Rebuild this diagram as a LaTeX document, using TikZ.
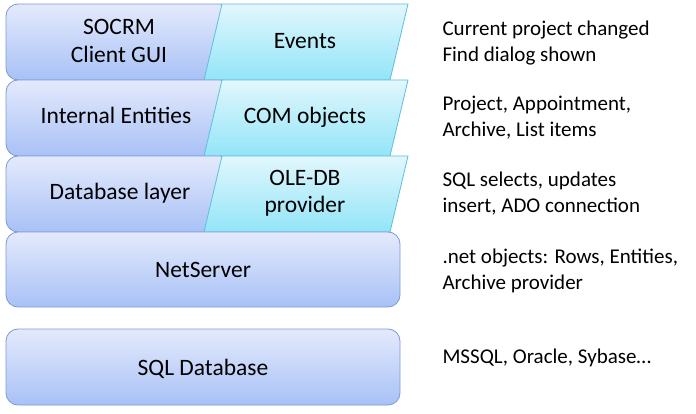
\documentclass[tikz,border=0pt]{standalone}
\usepackage{fontspec}
\setmainfont{Carlito}
\usepackage{xcolor}
\usepackage{tikz}

\definecolor{layerTop}{HTML}{E4EAFC}
\definecolor{layerBot}{HTML}{A8C1F6}
\definecolor{layerLine}{HTML}{7C9AD6}
\definecolor{ifaceTop}{HTML}{E2F7FD}
\definecolor{ifaceBot}{HTML}{92E5F8}
\definecolor{ifaceLine}{HTML}{5BBFDD}

\begin{document}
\begin{tikzpicture}[x=1pt,y=-1pt,
  layer/.style={draw=layerLine, top color=layerTop, bottom color=layerBot, rounded corners=12pt, line width=0.8pt},
  iface/.style={draw=ifaceLine, top color=ifaceTop, bottom color=ifaceBot, line width=0.8pt},
  boxtext/.style={font=\fontsize{23.5}{28}\selectfont, align=center, anchor=base},
  note/.style={font=\fontsize{21}{26}\selectfont, align=left, anchor=base west}]
\useasboundingbox (0,0) rectangle (696,414);

% Client side layers
\foreach \t in {4,80,156}{
  \draw[layer] (6,\t) rectangle (232,\t+76);
  \draw[iface] (222,\t) -- (408,\t) -- (390,\t+76) -- (204,\t+76) -- cycle;
}

% Server and database
\draw[layer] (6,232) rectangle (400,307);
\draw[layer] (6,329) rectangle (400,405);

% Layer labels (base = last line)
\node[boxtext] (gui) at (119,63) {SOCRM\\Client GUI};
\node[boxtext] (events) at (305,49) {Events};
\node[boxtext] (entities) at (116,124) {Internal Entities};
\node[boxtext] (com) at (305,124) {COM objects};
\node[boxtext] (dblayer) at (120,200) {Database layer};
\node[boxtext] (oledb) at (305,213) {OLE-DB\\provider};
\node[boxtext] (netserver) at (203,277) {NetServer};
\node[boxtext] (sqldb) at (203,375) {SQL Database};

% Notes
\node[note] (evnote) at (439,62) {Current project changed\\Find dialog shown};
\node[note] (comnote) at (439,137) {Project, Appointment,\\Archive, List items};
\node[note] (dbnote) at (439,213) {SQL selects, updates\\insert, ADO connection};
\node[note] (netnote) at (439,289) {.net objects: Rows, Entities,\\Archive provider};
\node[note] (sqlnote) at (439,363) {MSSQL, Oracle, Sybase\dots};

\end{tikzpicture}
\end{document}
